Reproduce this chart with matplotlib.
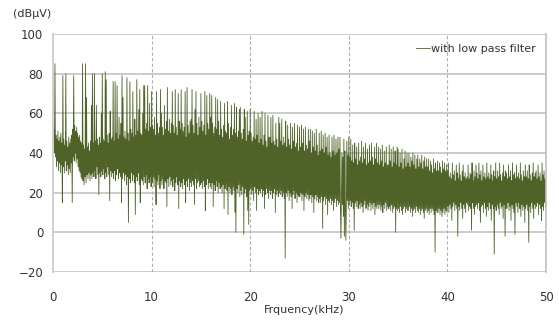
"""
Noise spectrum with low pass filter (dBuV vs kHz)
"""
import numpy as np
import matplotlib
matplotlib.use('Agg')
import matplotlib.pyplot as plt

# level in dBuV, one sample every 0.05 kHz, one row per kHz
level_0_10 = [
    55, 44, 52, 40, 85, 38, 49, 33, 47, 36, 51, 31, 46, 35, 48, 30, 50, 34, 45, 15,
    79, 33, 47, 30, 44, 36, 80, 31, 46, 34, 43, 29, 48, 32, 45, 30, 47, 35, 49, 15,
    52, 38, 79, 36, 54, 40, 51, 35, 53, 37, 50, 33, 48, 31, 49, 30, 46, 28, 45, 27,
    85, 26, 44, 24, 42, 28, 85, 25, 68, 29, 43, 27, 45, 30, 41, 26, 46, 29, 64, 27,
    80, 30, 45, 28, 80, 31, 46, 27, 64, 33, 47, 29, 44, 19, 48, 30, 45, 28, 60, 31,
    80, 29, 47, 32, 46, 27, 81, 30, 77, 28, 49, 33, 45, 29, 50, 16, 61, 31, 47, 28,
    48, 30, 76, 27, 46, 31, 76, 26, 50, 29, 74, 32, 47, 27, 58, 30, 49, 28, 55, 15,
    79, 27, 68, 30, 48, 26, 51, 29, 47, 24, 78, 28, 50, 5, 46, 27, 76, 25, 52, 30,
    50, 26, 71, 29, 48, 25, 57, 9, 49, 28, 77, 26, 51, 30, 62, 24, 72, 15, 50, 27,
    49, 26, 60, 24, 74, 28, 74, 25, 52, 29, 55, 22, 74, 27, 51, 25, 65, 28, 53, 23,
]
level_10_20 = [
    71, 25, 54, 28, 52, 23, 58, 27, 49, 14, 71, 26, 55, 24, 50, 29, 53, 22, 72, 26,
    60, 24, 53, 27, 49, 22, 64, 26, 52, 25, 56, 13, 73, 27, 51, 23, 57, 28, 50, 24,
    55, 26, 71, 23, 54, 27, 50, 21, 72, 25, 53, 28, 49, 24, 70, 12, 56, 26, 52, 23,
    72, 25, 55, 22, 51, 27, 53, 24, 71, 15, 48, 26, 73, 23, 54, 27, 50, 21, 56, 25,
    57, 23, 72, 26, 54, 24, 50, 14, 62, 27, 71, 22, 55, 25, 49, 26, 58, 23, 53, 24,
    70, 25, 56, 22, 51, 26, 54, 23, 71, 11, 49, 24, 69, 27, 55, 22, 52, 25, 70, 23,
    58, 22, 69, 25, 55, 13, 50, 24, 53, 21, 68, 26, 52, 23, 67, 20, 56, 25, 49, 22,
    66, 23, 52, 20, 48, 24, 54, 12, 65, 22, 51, 25, 50, 21, 66, 9, 55, 23, 47, 20,
    53, 22, 64, 19, 49, 23, 52, 21, 65, 10, 50, 0, 63, 22, 48, 20, 51, 24, 62, 18,
    63, 21, 50, 19, 47, 23, 52, -1, 62, 20, 58, 22, 46, 18, 61, 11, 49, 4, 51, 21,
]
level_20_30 = [
    62, 22, 50, 19, 46, 21, 48, 16, 61, 23, 47, 20, 57, 11, 49, 22, 60, 19, 45, 21,
    58, 20, 47, 22, 61, 18, 44, 21, 49, 12, 60, 19, 46, 22, 43, 20, 59, 17, 48, 21,
    48, 19, 58, 21, 45, 17, 59, 20, 46, 22, 44, 10, 55, 19, 47, 21, 43, 18, 58, 20,
    55, 19, 46, 21, 57, 18, 44, 20, 48, 17, 45, -13, 56, 20, 43, 18, 54, 21, 47, 16,
    44, 20, 55, 18, 42, 12, 53, 19, 46, 21, 55, 17, 43, 20, 45, 15, 54, 19, 41, 18,
    53, 18, 43, 20, 54, 16, 45, 19, 52, 11, 41, 18, 53, 20, 44, 17, 42, 19, 52, 16,
    46, 17, 52, 19, 40, 15, 51, 18, 43, 10, 50, 17, 41, 19, 52, 16, 44, 18, 39, 15,
    50, 17, 41, 15, 51, 18, 42, 2, 49, 16, 40, 18, 50, 14, 43, 17, 48, 9, 39, 16,
    49, 15, 40, 17, 38, 14, 48, 16, 41, 11, 49, 15, 39, 17, 47, 13, 40, 16, 48, 14,
    42, 15, 48, 13, -3, 16, 40, 14, 38, 8, 47, -2, 41, 15, -4, 13, 46, 16, 39, 12,
]
level_30_40 = [
    48, 14, 38, 16, 47, 13, 36, 15, 44, 12, 35, 1, 45, 15, 37, 13, 43, 16, 34, 12,
    45, 14, 36, 12, 38, 15, 46, 13, 35, 10, 43, 14, 37, 16, 45, 12, 34, 14, 42, 11,
    35, 13, 44, 15, 36, 11, 45, 14, 38, 12, 34, 15, 43, 9, 37, 13, 45, 12, 35, 14,
    43, 12, 34, 14, 42, 11, 36, 13, 44, 10, 33, 14, 41, 12, 35, 15, 43, 11, 34, 13,
    34, 12, 44, 13, 36, 11, 42, 14, 33, 10, 43, 12, 35, 13, 41, 0, 34, 12, 43, 11,
    42, 12, 33, 10, 40, 13, 35, 11, 42, 9, 32, 12, 37, 13, 41, 10, 33, 12, 40, 11,
    35, 11, 40, 13, 33, 10, 38, 12, 36, 8, 40, 11, 34, 12, 39, 10, 32, 13, 37, 11,
    39, 10, 33, 12, 37, 9, 35, 11, 39, 12, 32, 10, 36, 7, 38, 11, 33, 12, 37, 10,
    33, 11, 37, 9, 31, 12, 36, 10, 34, 12, 30, 11, 37, 9, 32, -10, 35, 11, 31, 10,
    36, 10, 31, 12, 35, 9, 33, 11, 30, 8, 36, 10, 32, 12, 35, 9, 31, 11, 34, 10,
]
level_40_50 = [
    31, 13, 35, 10, 28, 14, 30, 12, 27, 6, 35, 13, 29, 15, 31, 11, 26, 14, 34, 12,
    30, -2, 27, 13, 35, 11, 29, 15, 26, 12, 31, 7, 34, 14, 28, 12, 30, 10, 27, 15,
    28, 14, 34, 11, 27, 13, 30, 12, 29, 1, 35, 15, 26, 12, 31, 9, 28, 13, 34, 14,
    30, 12, 27, 15, 35, 11, 29, 5, 31, 13, 26, 14, 34, 10, 28, 15, 30, 12, 27, 8,
    35, 13, 28, 11, 30, 15, 27, 12, 34, 6, 29, 14, 26, 12, 31, -11, 28, 13, 35, 11,
    27, 14, 31, 12, 28, 9, 35, 15, 29, 12, 26, 13, 30, 7, 34, 14, 28, -2, 31, 12,
    30, 12, 27, 15, 34, 11, 28, 13, 31, 6, 26, 14, 35, 12, 29, 10, 30, -1, 27, 15,
    34, 13, 28, 10, 30, 15, 27, 12, 35, 8, 29, 14, 26, 11, 31, 13, 28, 5, 34, 12,
    28, 14, 31, 11, 27, -5, 34, 13, 29, 10, 26, 15, 30, 12, 35, 7, 28, 14, 30, 12,
    31, 13, 27, 15, 34, 9, 28, 14, 30, 12, 26, 6, 35, 13, 29, 11, 31, 15, 27, 12,
    26,
]

y_ticks = [-20, 0, 20, 40, 60, 80, 100]
x_ticks = [0, 10, 20, 30, 40, 50]

LINE_COLOR = '#4f6228'

if __name__ == "__main__":
    level = np.array(level_0_10 + level_10_20 + level_20_30 + level_30_40 + level_40_50, dtype=float)
    freq = np.linspace(0, 50, len(level))

    fig = plt.figure(figsize=(5.59, 3.22), dpi=100)
    ax = fig.add_axes([53 / 559, 1 - 272 / 322, 493 / 559, 238 / 322])

    # grid first, so the trace sits on top
    for yv in y_ticks:
        ax.axhline(yv, color='#c4c4c4', lw=1.2, zorder=0)
    for xv in x_ticks[1:-1]:
        ax.axvline(xv, color='#b0b0b0', lw=0.8, ls=(0, (3, 2)), zorder=0)

    ax.plot(freq, level, color=LINE_COLOR, lw=0.6, label='with low pass filter', zorder=2)

    ax.set_xlim(0, 50)
    ax.set_ylim(-20, 100)
    ax.set_xticks(x_ticks)
    ax.set_yticks(y_ticks)
    ax.tick_params(length=0, labelsize=8.5, colors='#333333')
    ax.tick_params(axis='x', pad=14)
    ax.tick_params(axis='y', pad=7)
    for side in ['top', 'bottom']:
        ax.spines[side].set_visible(False)
    ax.spines['left'].set_color('#d0d0d0')
    ax.spines['left'].set_linewidth(1.4)
    ax.spines['right'].set_color('#bfbfbf')
    ax.spines['right'].set_linewidth(1.2)

    fig.text(304 / 559, 1 - 310 / 322, 'Frquency(kHz)', ha='center', va='center', fontsize=8, color='#333333')
    fig.text(32 / 559, 1 - 14 / 322, '(dBμV)', ha='center', va='center', fontsize=8, color='#333333')

    leg = ax.legend(loc='upper right', bbox_to_anchor=(0.993, 0.985), frameon=False,
                    fontsize=8, handlelength=1.3, handletextpad=0.1, borderaxespad=0.2)
    for t in leg.get_texts():
        t.set_color('#333333')

    fig.savefig('out.png', dpi=100)
